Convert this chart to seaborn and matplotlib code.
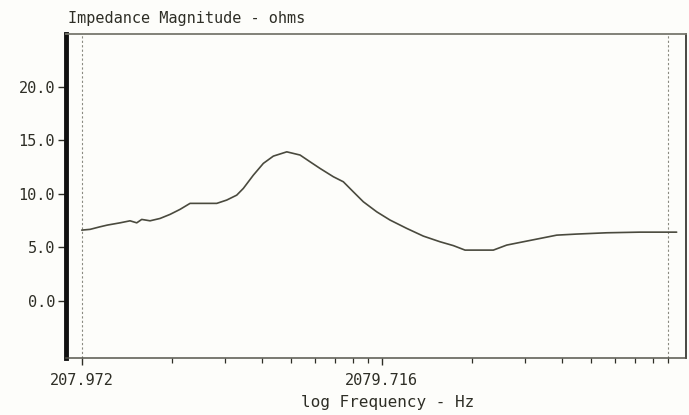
import numpy as np
import pandas as pd
import matplotlib
matplotlib.use("Agg")
import matplotlib.pyplot as plt
from matplotlib.ticker import FixedLocator, NullFormatter
import seaborn as sns

# Impedance sweep, frequency in Hz and magnitude in ohms
freq_hz = [207.97, 221.7, 239.3, 253.1, 279.0, 301.3, 317.2, 329.6, 351.3, 379.3,
           409.6, 442.3, 477.5, 528.9, 586.2, 632.8, 683.3, 718.9, 776.3, 838.2,
           905.1, 1003.5, 1111.2, 1199.5, 1295.0, 1434.8, 1548.8, 1672.3, 1805.7,
           2001.5, 2216.6, 2519.6, 2861.7, 3253.7, 3604.2, 3941.7, 4897.7, 5428.5,
           6165.9, 7010.8, 7967.8, 9289.7, 11695.0, 15101.0, 20000.0]
impedance_ohms = [6.61, 6.68, 6.92, 7.08, 7.29, 7.48, 7.29, 7.61, 7.48, 7.70,
                  8.08, 8.55, 9.11, 9.11, 9.11, 9.42, 9.88, 10.51, 11.75, 12.85,
                  13.53, 13.93, 13.63, 13.00, 12.38, 11.60, 11.13, 10.19, 9.26,
                  8.32, 7.55, 6.77, 6.05, 5.52, 5.16, 4.74, 4.74, 5.21,
                  5.52, 5.83, 6.14, 6.24, 6.36, 6.42, 6.42]

x_major = [207.972, 2079.716]
x_major_labels = ["207.972", "2079.716"]
y_ticks = [0.0, 5.0, 10.0, 15.0, 20.0]
y_tick_labels = ["0.0", "5.0", "10.0", "15.0", "20.0"]
cursor_lo, cursor_hi = 207.972, 18717.44

title_text = "Impedance Magnitude - ohms"
xlabel_text = "log Frequency - Hz"

sns.set_style("white")
plt.rcParams["font.family"] = ["DejaVu Sans Mono", "DejaVu Sans"]

ink = "#2e2e26"
trace = "#4a4a3e"

df = pd.DataFrame({"freq": freq_hz, "mag": impedance_ohms})

fig = plt.figure(figsize=(6.89, 4.15), dpi=100)
fig.patch.set_facecolor("#fdfdfa")
ax = fig.add_axes([66 / 689, 57 / 415, 620 / 689, 324 / 415])
ax.set_facecolor("#fdfdfa")

sns.lineplot(data=df, x="freq", y="mag", ax=ax, color=trace, linewidth=1.2,
             legend=False)

ax.set_xscale("log")
ax.set_xlim(184.3, 21490)
ax.set_ylim(-5.35, 24.95)

# cursor lines at the sweep limits
for xc in (cursor_lo, cursor_hi):
    ax.axvline(xc, color="#8a8a80", linewidth=0.8, linestyle=(0, (2, 2)), zorder=1)

minor = [k * m for m in x_major for k in range(2, 10)]
ax.xaxis.set_major_locator(FixedLocator(x_major))
ax.xaxis.set_minor_locator(FixedLocator(minor))
ax.xaxis.set_minor_formatter(NullFormatter())
ax.set_xticklabels(x_major_labels)
ax.set_yticks(y_ticks)
ax.set_yticklabels(y_tick_labels)

ax.tick_params(axis="x", which="major", direction="out", length=5, width=1.0,
               color=ink, labelsize=11, labelcolor=ink, pad=6, bottom=True)
ax.tick_params(axis="x", which="minor", direction="out", length=3.5, width=0.9,
               color=ink, bottom=True)
ax.tick_params(axis="y", direction="out", length=6, width=1.0, color=ink,
               labelsize=11, labelcolor=ink, pad=2, left=True)

ax.spines["left"].set_linewidth(3.5)
ax.spines["left"].set_color("#111111")
ax.spines["bottom"].set_linewidth(1.1)
ax.spines["bottom"].set_color("#55554c")
ax.spines["top"].set_linewidth(1.3)
ax.spines["top"].set_color("#77776e")
ax.spines["right"].set_linewidth(1.3)
ax.spines["right"].set_color("#3a3a34")

ax.set_xlabel("")
ax.set_ylabel("")
fig.text(68 / 689, 1 - 18 / 415, title_text, ha="left", va="center",
         fontsize=11, color=ink)
fig.text(388 / 689, 1 - 402 / 415, xlabel_text, ha="center", va="center",
         fontsize=11.5, color=ink)

fig.savefig("out.png", dpi=100, facecolor=fig.get_facecolor())
